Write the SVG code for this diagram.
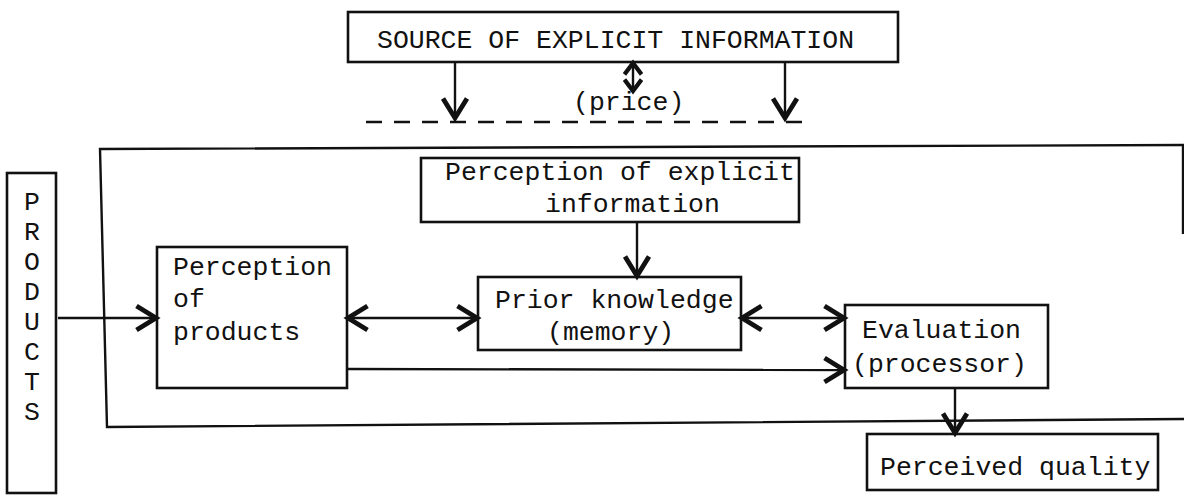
<svg xmlns="http://www.w3.org/2000/svg" width="1184" height="497" viewBox="0 0 1184 497">
  <defs>
    <style>
      .box { fill: #fff; stroke: #111; stroke-width: 2.6; }
      .ln { fill: none; stroke: #111; stroke-width: 2.4; }
      .tx { font-family: "Liberation Mono", "Courier New", monospace; font-size: 26.5px; fill: #111; }
      .arr { marker-end: url(#head); }
      .arr2 { marker-start: url(#head); marker-end: url(#head); }
      .arrs { marker-start: url(#headSmall); marker-end: url(#headSmall); }
    </style>
    <marker id="head" markerUnits="userSpaceOnUse" markerWidth="30" markerHeight="30" viewBox="-16 -10 20 20" refX="0" refY="0" orient="auto-start-reverse">
      <path d="M-13,-8 L0,0 L-13,8" fill="none" stroke="#111" stroke-width="3.2"/>
    </marker>
    <marker id="headSmall" markerUnits="userSpaceOnUse" markerWidth="20" markerHeight="20" viewBox="-10 -7 12 14" refX="0" refY="0" orient="auto-start-reverse">
      <path d="M-8,-6 L0,0 L-8,6" fill="none" stroke="#111" stroke-width="3"/>
    </marker>
  </defs>
  <rect width="1184" height="497" fill="#fff"/>

  <!-- enclosing frame of the perception process -->
  <g id="frame">
    <path class="ln" d="M1184,145 L100,149 L107,427 L1184,419"/>
    <path class="ln" d="M1183,145 L1183,234"/>
  </g>

  <!-- dashed boundary under the information source -->
  <path class="ln" d="M366,122 L806,122" stroke-dasharray="16 12"/>

  <g id="source">
    <rect class="box" x="348" y="12" width="550" height="50"/>
    <text class="tx" x="377" y="48">SOURCE OF EXPLICIT INFORMATION</text>
  </g>
  <text class="tx" x="573" y="110">(price)</text>

  <g id="products">
    <rect class="box" x="7" y="173" width="49" height="320"/>
    <g class="tx" text-anchor="middle">
      <text x="32" y="210">P</text>
      <text x="32" y="240">R</text>
      <text x="32" y="270">O</text>
      <text x="32" y="300">D</text>
      <text x="32" y="330">U</text>
      <text x="32" y="360">C</text>
      <text x="32" y="390">T</text>
      <text x="32" y="420">S</text>
    </g>
  </g>

  <g id="perception-explicit">
    <rect class="box" x="421" y="158" width="378" height="64"/>
    <text class="tx" x="445" y="180">Perception of explicit</text>
    <text class="tx" x="545" y="212">information</text>
  </g>

  <g id="perception-products">
    <rect class="box" x="157" y="247" width="190" height="141"/>
    <text class="tx" x="173" y="275">Perception</text>
    <text class="tx" x="173" y="307">of</text>
    <text class="tx" x="173" y="340">products</text>
  </g>

  <g id="prior-knowledge">
    <rect class="box" x="478" y="277" width="263" height="73"/>
    <text class="tx" x="495" y="308">Prior knowledge</text>
    <text class="tx" x="547" y="340">(memory)</text>
  </g>

  <g id="evaluation">
    <rect class="box" x="845" y="305" width="203" height="83"/>
    <text class="tx" x="862" y="338">Evaluation</text>
    <text class="tx" x="852" y="372">(processor)</text>
  </g>

  <g id="perceived-quality">
    <rect class="box" x="867" y="434" width="291" height="56"/>
    <text class="tx" x="880" y="475">Perceived quality</text>
  </g>

  <g id="connectors">
    <path class="ln arr" d="M455,62 L455,118"/>
    <path class="ln arr" d="M785,62 L785,118"/>
    <path class="ln arrs" d="M633,63 L633,91"/>
    <path class="ln arr" d="M58,318 L156,318"/>
    <path class="ln arr2" d="M348,318 L477,318"/>
    <path class="ln arr" d="M637,222 L637,276"/>
    <path class="ln arr2" d="M742,318 L844,318"/>
    <path class="ln arr" d="M347,369 L844,370"/>
    <path class="ln arr" d="M955,388 L955,433" stroke-width="4.5"/>
  </g>
</svg>
